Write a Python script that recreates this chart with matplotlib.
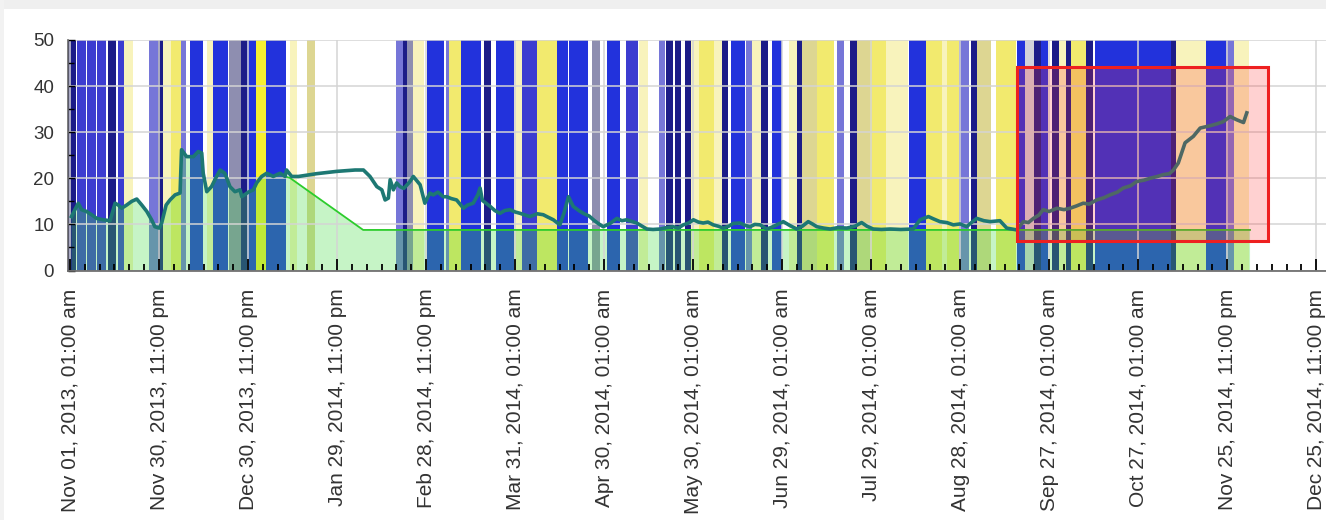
import matplotlib
matplotlib.use("Agg")
import matplotlib.pyplot as plt
from matplotlib.patches import Rectangle
from matplotlib.ticker import MultipleLocator, FixedLocator

plt.rcParams['font.family'] = ['Liberation Sans', 'DejaVu Sans']

# x positions are days since Nov 01, 2013 01:00
tick_days = [0, 30, 60, 90, 120, 150, 180, 210, 240, 270, 300, 330, 360, 390, 420]
tick_labels = [
    "Nov 01, 2013, 01:00 am", "Nov 30, 2013, 11:00 pm", "Dec 30, 2013, 11:00 pm",
    "Jan 29, 2014, 11:00 pm", "Feb 28, 2014, 11:00 pm", "Mar 31, 2014, 01:00 am",
    "Apr 30, 2014, 01:00 am", "May 30, 2014, 01:00 am", "Jun 29, 2014, 01:00 am",
    "Jul 29, 2014, 01:00 am", "Aug 28, 2014, 01:00 am", "Sep 27, 2014, 01:00 am",
    "Oct 27, 2014, 01:00 am", "Nov 25, 2014, 11:00 pm", "Dec 25, 2014, 11:00 pm",
]

# status periods (start day, end day, state code)
band_start = [-0.7, 2.7, 6.1, 9.4, 13.1, 16.5, 18.5, 27.0, 30.0, 31.7, 34.4, 37.7,
              40.8, 46.5, 48.5, 53.9, 58.0, 60.0, 63.0, 66.4, 74.5, 80.2,
              110.2, 112.6, 113.9, 115.9, 120.7, 127.1, 128.1, 132.1, 139.9, 143.9,
              150.0, 152.7, 157.7, 164.5, 168.5, 176.3, 181.3, 187.7, 192.1,
              198.9, 201.2, 204.2, 207.6, 209.8, 212.5, 217.5, 220.1, 223.1, 228.3,
              230.2, 233.2, 236.9, 242.7, 245.4, 247.0, 252.0, 258.8, 263.2, 265.6,
              270.0, 275.4, 283.1, 288.8, 294.2, 295.9, 299.9, 304.0, 306.0, 312.4,
              319.5, 322.2, 325.2, 327.6, 331.3, 333.5, 336.0, 337.7, 342.8, 345.8,
              351.5, 359.6, 365.7, 371.4, 373.1, 383.2, 386.9, 390.0, 392.6]
band_end = [1.7, 5.1, 8.4, 11.8, 15.2, 17.9, 20.9, 29.3, 31.7, 33.7, 37.7, 38.8,
            44.5, 48.2, 52.9, 57.3, 60.0, 62.4, 66.1, 72.5, 76.2, 82.2,
            112.2, 113.9, 115.6, 119.0, 125.7, 128.1, 131.4, 138.2, 141.6, 149.3,
            152.3, 157.4, 164.1, 167.5, 174.3, 178.3, 185.0, 191.1, 194.5,
            200.2, 202.9, 205.6, 209.3, 212.5, 217.5, 219.7, 221.4, 227.2, 229.9,
            232.6, 234.9, 239.6, 245.0, 247.0, 252.0, 257.2, 260.5, 265.6, 270.0,
            275.4, 282.1, 288.2, 294.2, 295.9, 299.9, 302.6, 305.7, 310.1, 318.5,
            321.9, 324.9, 327.3, 329.3, 333.0, 335.5, 337.4, 342.1, 344.4, 350.9,
            359.3, 365.0, 370.7, 372.8, 382.9, 386.2, 389.3, 392.3, 397.0]
band_kind = ['N', 'M', 'M', 'M', 'N', 'M', 'W', 'P', 'N', 'W', 'Y', 'P',
             'B', 'W', 'B', 'G', 'N', 'B', 'S', 'B', 'W', 'K',
             'P', 'N', 'G', 'W', 'B', 'P', 'Y', 'B', 'N', 'B',
             'W', 'M', 'Y', 'B', 'B', 'G', 'B', 'M', 'W',
             'P', 'N', 'N', 'N', 'W', 'Y', 'W', 'N', 'B', 'P',
             'W', 'N', 'B', 'W', 'N', 'K', 'Y', 'P', 'N', 'K',
             'Y', 'W', 'B', 'Y', 'W', 'Y', 'P', 'N', 'K', 'Y',
             'B', 'L', 'N', 'B', 'N', 'W', 'N', 'Y', 'N', 'B',
             'B', 'B', 'B', 'N', 'W', 'B', 'B', 'P', 'W']
band_colors = {
    'N': '#1c1c88', 'B': '#2232dc', 'M': '#3c3cd0', 'P': '#7676d8',
    'G': '#8e8eb0', 'L': '#d2d2da', 'Y': '#f2ea6e', 'S': '#f6ef32',
    'W': '#f8f3bc', 'K': '#ddd692',
}

# measured value
value_day = [0.5, 1.5, 2.8, 3.9, 5.6, 7.3, 9.0, 11.2, 13.5, 15.2, 16.3, 17.4, 19.1, 20.8,
             22.5, 24.2, 25.9, 27.5, 28.6, 30.1, 30.9, 32.4, 33.7, 35.4, 37.1, 37.6, 39.3,
             41.6, 43.2, 44.4, 44.9, 46.1, 47.7, 49.4, 50.6, 52.2, 53.9, 55.6, 57.3, 57.9,
             60.1, 61.8, 62.9, 64.6, 66.3, 68.5, 70.8, 72.5, 73.0, 74.7, 77.0, 83.1, 89.9,
             96.1, 98.9, 101.1, 103.4, 105.1, 106.2, 107.3, 107.9, 109.0, 110.1, 111.2,
             112.5, 114.6, 115.7, 118.0, 119.6, 121.3, 122.4, 124.0, 125.8, 127.0, 128.5,
             130.3, 132.6, 134.0, 135.9, 137.5, 138.2, 139.0, 141.6, 143.2, 144.9, 146.5,
             148.3, 150.0, 151.7, 153.5, 155.0, 157.5, 159.5, 161.0, 162.9, 165.1, 166.5,
             168.0, 169.6, 171.5, 173.0, 175.0, 176.4, 178.0, 179.7, 182.0, 184.3, 186.0,
             187.6, 189.5, 191.0, 192.8, 194.4, 196.5, 198.9, 201.0, 203.3, 205.0, 206.7,
             208.5, 210.1, 211.8, 213.4, 215.0, 216.8, 218.5, 220.2, 222.0, 223.5, 225.8,
             227.5, 229.2, 230.8, 232.6, 234.8, 236.5, 238.5, 240.4, 242.5, 244.9, 246.8,
             248.8, 250.2, 251.7, 254.0, 256.2, 258.8, 261.8, 264.5, 266.8, 268.6, 270.7,
             273.5, 276.4, 280.0, 284.2, 286.5, 289.3, 291.0, 293.2, 295.5, 297.7, 300.0,
             302.2, 303.8, 305.6, 308.0, 310.1, 313.4, 315.7, 319.1, 321.3, 323.0, 324.7,
             326.5, 328.0, 330.0, 332.6, 335.0, 337.0, 339.2, 341.5, 343.5, 346.0, 348.5,
             350.5, 353.0, 355.0, 357.5, 359.5, 362.0, 364.0, 366.5, 368.5, 370.5, 371.9,
             373.5, 375.8, 378.6, 380.9, 384.2, 386.5, 388.7, 391.0, 393.2, 395.5, 396.6]
value_val = [11.7, 13.0, 14.6, 13.2, 12.8, 12.1, 11.3, 11.0, 10.8, 14.6, 14.2, 13.5, 14.2, 15.0,
             15.5, 14.2, 12.8, 11.0, 9.5, 9.2, 10.3, 14.2, 15.3, 16.4, 16.8, 26.2, 24.7,
             24.7, 25.8, 25.5, 21.1, 17.1, 18.2, 20.4, 21.8, 21.1, 18.2, 17.1, 17.5, 16.0,
             17.0, 17.5, 19.0, 20.4, 21.1, 20.4, 21.1, 20.4, 21.8, 20.4, 20.4, 21.0, 21.5,
             21.8, 21.8, 20.4, 18.2, 17.5, 15.3, 15.7, 19.7, 17.5, 19.0, 18.2,
             17.8, 19.3, 20.4, 18.6, 14.6, 16.8, 16.4, 17.0, 16.0, 16.0, 15.6,
             15.3, 13.5, 14.2, 14.6, 16.5, 17.9, 15.2, 13.9, 13.0, 12.4, 13.0,
             13.2, 12.7, 12.4, 12.0, 11.7, 12.3, 12.1, 11.6, 11.0, 9.9, 12.5,
             16.0, 13.9, 13.0, 12.4, 11.8, 11.0, 10.2, 9.5, 10.2, 11.3, 10.8,
             11.0, 10.6, 10.3, 9.6, 9.0, 8.9, 9.0, 9.3, 9.5, 9.2, 9.9,
             10.3, 11.0, 10.5, 10.3, 10.5, 9.9, 9.6, 9.2, 9.6, 10.2, 10.3,
             9.8, 9.5, 10.0, 9.9, 9.0, 9.4, 10.0, 10.6, 9.8, 9.0, 9.6,
             10.6, 10.1, 9.5, 9.2, 9.0, 9.3, 9.2, 9.6, 10.4, 9.6, 9.0,
             8.9, 9.0, 8.9, 9.0, 11.0, 11.7, 11.2, 10.6, 10.4, 9.9, 10.1,
             9.5, 10.4, 11.3, 10.8, 10.6, 10.8, 9.2, 8.8, 10.6, 10.4, 11.3,
             12.0, 13.2, 12.8, 13.5, 13.2, 13.5, 14.0, 14.6, 14.4, 15.3, 15.8,
             16.4, 17.0, 17.9, 18.4, 19.3, 19.6, 20.0, 20.4, 20.8, 21.0, 21.8,
             23.3, 27.7, 29.1, 30.9, 31.4, 31.8, 32.3, 33.4, 32.7, 32.1, 34.2]

# lower reference level (follows the measured value until day 72.5)
ref_split_day = 72.5
ref_day = [74.1, 98.8, 397.7]
ref_val = [20.1, 8.8, 8.8]

# highlighted window
win_day0, win_day1 = 319.2, 403.8
win_val0, win_val1 = 6.4, 44.2

fig = plt.figure(figsize=(13.26, 5.2), dpi=100)
fig.patch.set_facecolor('white')
fig.patches.append(Rectangle((0, 1 - 9 / 520), 1, 9 / 520, transform=fig.transFigure,
                             facecolor='#efefef', edgecolor='none', zorder=0))
fig.patches.append(Rectangle((0, 0), 4 / 1326, 1, transform=fig.transFigure,
                             facecolor='#f2f2f2', edgecolor='none', zorder=0))

ax = fig.add_axes([68 / 1326, (520 - 270.5) / 520, (1326 - 68) / 1326, 230.5 / 520])
ax.set_xlim(-0.67, 423.3)
ax.set_ylim(0, 50)
ax.set_facecolor('white')

# periods are drawn slightly wider so neighbouring states meet softly
spread = 0.35
for s, e, k in zip(band_start, band_end, band_kind):
    ax.axvspan(s - spread, e + spread, facecolor=band_colors[k], edgecolor='none', zorder=1)

area_x = [d for d in value_day if d <= ref_split_day] + ref_day
area_y = [v for d, v in zip(value_day, value_val) if d <= ref_split_day] + ref_val
ax.fill_between(area_x, 0, area_y, facecolor='#44dd44', alpha=0.3, lw=0, zorder=2)

ax.grid(True, which='major', color='#d4d4d4', lw=1.1, zorder=2.5)
ax.set_axisbelow(False)

ax.plot(area_x, area_y, color='#2ccc2c', lw=1.3, zorder=3)
ax.plot(value_day, value_val, color='#1d7873', lw=2.6, zorder=4, solid_joinstyle='round')

ax.add_patch(Rectangle((win_day0, win_val0), win_day1 - win_day0, win_val1 - win_val0,
                       facecolor='#ff3030', alpha=0.22, edgecolor='none', zorder=5))
ax.add_patch(Rectangle((win_day0, win_val0), win_day1 - win_day0, win_val1 - win_val0,
                       facecolor='none', edgecolor='#ee2020', lw=2.2, zorder=6))

ax.xaxis.set_major_locator(FixedLocator(tick_days))
ax.set_xticklabels(tick_labels, rotation=90, fontsize=15, color='#333333')
ax.xaxis.set_minor_locator(MultipleLocator(5))
ax.yaxis.set_major_locator(MultipleLocator(10))
ax.yaxis.set_minor_locator(MultipleLocator(5))

ax.tick_params(axis='x', which='major', direction='in', length=9, width=1.3,
               color='black', pad=13)
ax.tick_params(axis='x', which='minor', direction='in', length=5, width=1.3, color='black')
ax.tick_params(axis='y', which='major', direction='in', length=5, width=1.0,
               color='black', pad=10, labelsize=13.5, labelcolor='#333333')
ax.tick_params(axis='y', which='minor', direction='in', length=4, width=1.0, color='black')

for side in ('top', 'right'):
    ax.spines[side].set_visible(False)
for side in ('left', 'bottom'):
    ax.spines[side].set_color('#666666')
    ax.spines[side].set_linewidth(1.2)
    ax.spines[side].set_zorder(7)

fig.savefig('out.png', dpi=100)
